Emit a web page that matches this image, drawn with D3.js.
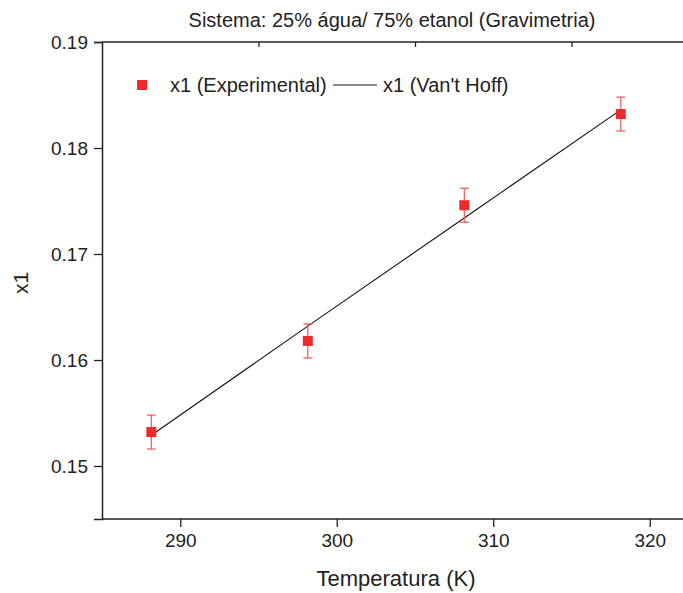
<!DOCTYPE html>
<html>
<head>
<meta charset="utf-8">
<script src="https://cdn.jsdelivr.net/npm/d3@7"></script>
<style>
  body { margin: 0; background: #fff; }
  svg { display: block; font-family: "Liberation Sans", Arial, sans-serif; }
</style>
</head>
<body>
<div id="container"></div>
<script>
// data
var temps = [288.15, 298.15, 308.15, 318.15];
var x1Exp = [0.1532, 0.1618, 0.1746, 0.1832];
var x1Err = [0.0016, 0.0016, 0.0016, 0.0016];
var x1Fit = [0.1529, 0.1632, 0.1734, 0.1836];
var xTicks = [290, 300, 310, 320];
var xMinor = [285, 295, 305, 315, 325];
var yTicks = [0.15, 0.16, 0.17, 0.18, 0.19];
var yMinor = [0.145, 0.155, 0.165, 0.175, 0.185];

var W = 683, H = 593;
var mLeft = 102, mTop = 42, mBottom = 519, mRight = 728;

var svg = d3.select('#container').append('svg')
    .attr('width', W).attr('height', H);

var x = d3.scaleLinear().domain([285, 325]).range([mLeft, mRight]);
var y = d3.scaleLinear().domain([0.145, 0.19]).range([mBottom, mTop]);

svg.append('defs').append('clipPath').attr('id', 'clip')
  .append('rect').attr('x', mLeft).attr('y', mTop - 10).attr('width', W - mLeft).attr('height', mBottom - mTop + 20);

var axisColor = '#222';

// bottom axis
var gx = svg.append('g').attr('transform', 'translate(0,' + mBottom + ')');
gx.call(d3.axisBottom(x).tickValues(xMinor).tickSize(4).tickFormat(''));
gx.call(d3.axisBottom(x).tickValues(xTicks).tickSize(8).tickPadding(7).tickFormat(d3.format('d')));

// left axis
var gy = svg.append('g').attr('transform', 'translate(' + mLeft + ',0)');
gy.call(d3.axisLeft(y).tickValues(yMinor).tickSize(4).tickFormat(''));
gy.call(d3.axisLeft(y).tickValues(yTicks).tickSize(8).tickPadding(6).tickFormat(d3.format('.2f')));

// top border with inward ticks
var gt = svg.append('g').attr('transform', 'translate(0,' + mTop + ')');
gt.call(d3.axisTop(x).tickValues([295, 305, 315]).tickSize(-5).tickFormat(''));

svg.selectAll('.domain').attr('stroke', axisColor).attr('stroke-width', 1.5);
svg.selectAll('.tick line').attr('stroke', axisColor).attr('stroke-width', 1.3);
svg.selectAll('.tick text').attr('fill', '#222').style('font-size', '19px');

// keep the horizontal domains inside the window
gx.select('.domain').attr('d', 'M' + mLeft + ',0H' + W);
gt.select('.domain').attr('d', 'M' + mLeft + ',0H' + W);

var plot = svg.append('g').attr('clip-path', 'url(#clip)');

// Van't Hoff line
var line = d3.line().x(function (d, i) { return x(temps[i]); }).y(function (d) { return y(d); });
plot.append('path').datum(x1Fit)
    .attr('d', line)
    .attr('fill', 'none').attr('stroke', '#111').attr('stroke-width', 1.1);

// error bars
var errColor = '#f05454';
var eb = plot.append('g').selectAll('g').data(x1Exp).enter().append('g');
eb.append('line')
    .attr('x1', function (d, i) { return x(temps[i]); })
    .attr('x2', function (d, i) { return x(temps[i]); })
    .attr('y1', function (d, i) { return y(d + x1Err[i]); })
    .attr('y2', function (d, i) { return y(d - x1Err[i]); })
    .attr('stroke', errColor).attr('stroke-width', 1.2);
[1, -1].forEach(function (s) {
  eb.append('line')
    .attr('x1', function (d, i) { return x(temps[i]) - 4.5; })
    .attr('x2', function (d, i) { return x(temps[i]) + 4.5; })
    .attr('y1', function (d, i) { return y(d + s * x1Err[i]); })
    .attr('y2', function (d, i) { return y(d + s * x1Err[i]); })
    .attr('stroke', errColor).attr('stroke-width', 1.2);
});

// markers
var red = '#ee2a2a';
plot.append('g').selectAll('rect').data(x1Exp).enter().append('rect')
    .attr('x', function (d, i) { return x(temps[i]) - 5; })
    .attr('y', function (d) { return y(d) - 5; })
    .attr('width', 10).attr('height', 10)
    .attr('fill', red);

// legend
var lg = svg.append('g').style('font-size', '20px').attr('fill', '#222');
lg.append('rect').attr('x', 137).attr('y', 80).attr('width', 10).attr('height', 10).attr('fill', red);
lg.append('text').attr('x', 170).attr('y', 92).text('x1 (Experimental)');
lg.append('line').attr('x1', 333).attr('x2', 377).attr('y1', 85).attr('y2', 85)
    .attr('stroke', '#111').attr('stroke-width', 1.1);
lg.append('text').attr('x', 383).attr('y', 92).text("x1 (Van't Hoff)");

// title and axis labels
svg.append('text').attr('x', 392).attr('y', 27).attr('text-anchor', 'middle')
    .style('font-size', '20px').attr('fill', '#222')
    .text('Sistema: 25% água/ 75% etanol (Gravimetria)');
svg.append('text').attr('x', 396).attr('y', 586).attr('text-anchor', 'middle')
    .style('font-size', '22px').attr('fill', '#222')
    .text('Temperatura (K)');
svg.append('text').attr('transform', 'translate(28,283) rotate(-90)').attr('text-anchor', 'middle')
    .style('font-size', '21px').attr('fill', '#222')
    .text('x1');
</script>
</body>
</html>
